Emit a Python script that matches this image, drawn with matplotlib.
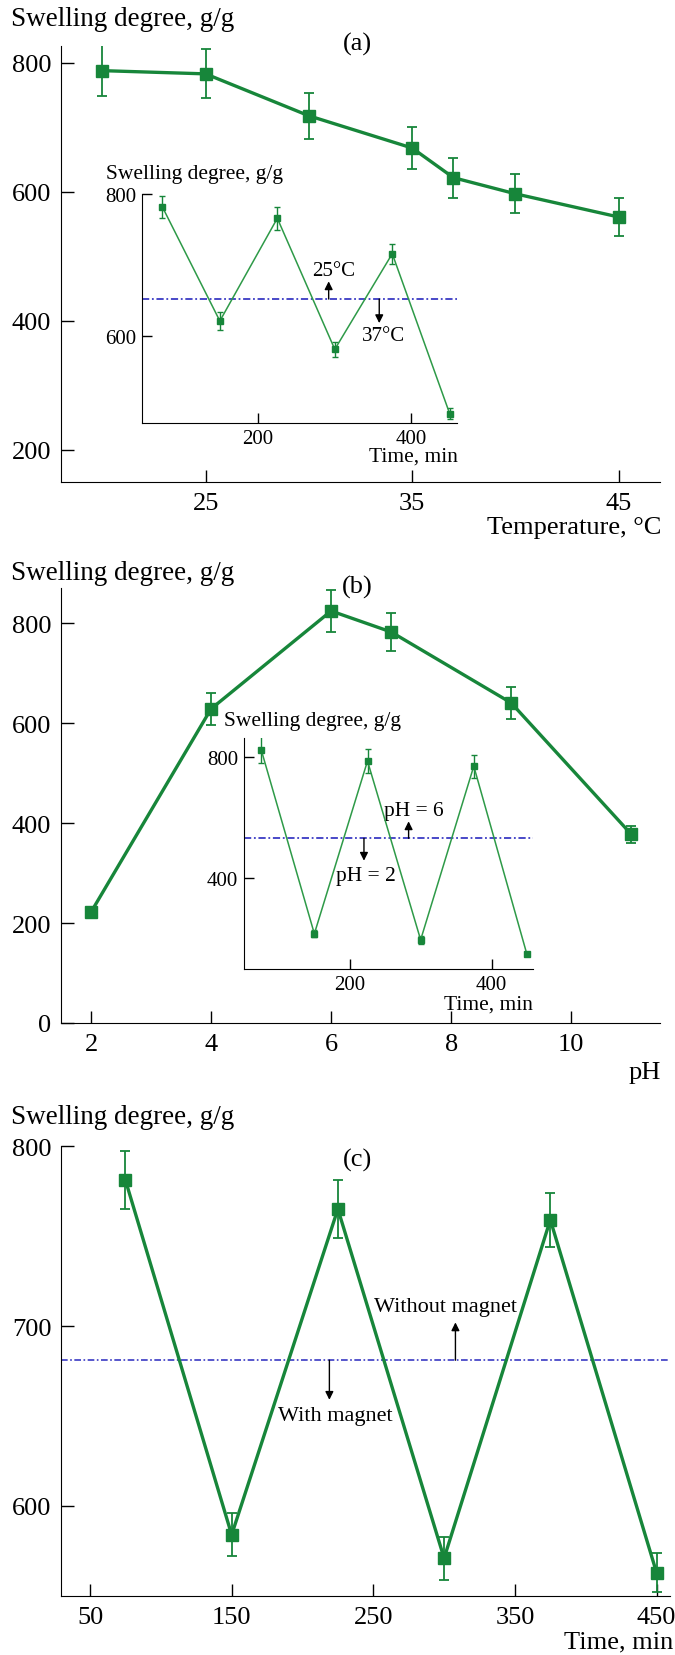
import matplotlib
matplotlib.use('Agg')
import matplotlib.pyplot as plt

plt.rcParams['font.family'] = ['Liberation Serif', 'DejaVu Serif']

# panel (a): temperature
temp = [20, 25, 30, 35, 37, 40, 45]
swell_temp = [788, 783, 718, 668, 622, 597, 561]
err_temp = [40, 38, 36, 33, 31, 30, 29]

# inset (a) and panel (c) time axis
time_min = [75, 150, 225, 300, 375, 450]
swell_tcycle = [782, 621, 766, 581, 716, 490]
err_tcycle = [16, 13, 16, 11, 14, 8]
temp_split = 652

# panel (b): pH
ph = [2, 4, 6, 7, 9, 11]
swell_ph = [222, 629, 825, 783, 641, 378]
err_ph = [8, 32, 42, 38, 32, 17]

swell_phcycle = [824, 217, 787, 197, 770, 149]
err_phcycle = [44, 12, 40, 13, 38, 5]
ph_split = 532

# panel (c): magnet
swell_mag = [781, 584, 765, 571, 759, 563]
err_mag = [16, 12, 16, 12, 15, 11]
mag_split = 681

W, H = 675, 1656
GREEN = '#17863a'
LGREEN = '#2e9a48'
BLUE = '#3a3ac4'
DASH = (0, (4, 1.5, 1, 1.5))

fig = plt.figure(figsize=(W / 100, H / 100), dpi=100)


def box(l, t, r, b):
    return [l / W, 1 - b / H, (r - l) / W, (b - t) / H]


def style(ax, fs, tl, pad):
    for s in ['top', 'right']:
        ax.spines[s].set_visible(False)
    ax.tick_params(direction='in', length=tl, width=1, labelsize=fs, pad=pad)


def ftext(x, y, s, fs, ha='left'):
    fig.text(x / W, 1 - y / H, s, fontsize=fs, ha=ha, va='center')


def main_plot(ax, x, y, e):
    ax.errorbar(x, y, yerr=e, color=GREEN, lw=2.4, marker='s', ms=8,
                ecolor=GREEN, elinewidth=1.3, capsize=3.5, capthick=1.3, zorder=3)


def inset_plot(ax, x, y, e):
    ax.errorbar(x, y, yerr=e, color=LGREEN, lw=1.1, marker='s', ms=4,
                mfc=GREEN, mec=GREEN, ecolor=GREEN, elinewidth=1, capsize=2.5, zorder=3)


def arrow(ax, x, y0, y1):
    ax.annotate('', xy=(x, y1), xytext=(x, y0),
                arrowprops=dict(arrowstyle='-|>', color='black', lw=1, mutation_scale=12,
                                shrinkA=0, shrinkB=0))


# ---- panel (a)
ax = fig.add_axes(box(61, 46.5, 660, 483))
main_plot(ax, temp, swell_temp, err_temp)
ax.set_xlim(18, 47)
ax.set_ylim(150, 827)
ax.set_xticks([25, 35, 45])
ax.set_yticks([200, 400, 600, 800])
style(ax, 19, 9, 7)
ftext(11, 19, 'Swelling degree, g/g', 19.5)
ftext(357, 44, '(a)', 19, ha='center')
ftext(661, 528, 'Temperature, \u00b0C', 19, ha='right')

ins = fig.add_axes(box(141.7, 195.2, 457.4, 424))
ins.patch.set_alpha(0)
inset_plot(ins, time_min, swell_tcycle, err_tcycle)
ins.axhline(temp_split, color=BLUE, lw=1.3, ls=DASH)
ins.set_xlim(48, 460)
ins.set_ylim(477, 800)
ins.set_xticks([200, 400])
ins.set_yticks([600, 800])
style(ins, 15, 7, 4)
arrow(ins, 292, temp_split, 677)
arrow(ins, 358, temp_split, 618)
ins.text(299, 692, '25\u00b0C', fontsize=15, ha='center', va='center')
ins.text(363, 600, '37\u00b0C', fontsize=15, ha='center', va='center')
ftext(106, 175, 'Swelling degree, g/g', 15.5)
ftext(458, 457, 'Time, min', 15.5, ha='right')

# ---- panel (b)
ax = fig.add_axes(box(61, 589, 660, 1024))
main_plot(ax, ph, swell_ph, err_ph)
ax.set_xlim(1.5, 11.48)
ax.set_ylim(0, 871)
ax.set_xticks([2, 4, 6, 8, 10])
ax.set_yticks([0, 200, 400, 600, 800])
style(ax, 19, 9, 7)
ftext(11, 573, 'Swelling degree, g/g', 19.5)
ftext(357, 587, '(b)', 19, ha='center')
ftext(661, 1073, 'pH', 19, ha='right')

ins = fig.add_axes(box(243.5, 739, 532.6, 970.2))
ins.patch.set_alpha(0)
inset_plot(ins, time_min, swell_phcycle, err_phcycle)
ins.axhline(ph_split, color=BLUE, lw=1.3, ls=DASH)
ins.set_xlim(50, 458)
ins.set_ylim(100, 863)
ins.set_xticks([200, 400])
ins.set_yticks([400, 800])
style(ins, 15, 7, 4)
arrow(ins, 283, ph_split, 588)
arrow(ins, 220, ph_split, 458)
ins.text(290, 625, 'pH = 6', fontsize=15.5, ha='center', va='center')
ins.text(223, 409, 'pH = 2', fontsize=15.5, ha='center', va='center')
ftext(224, 722, 'Swelling degree, g/g', 15.5)
ftext(533, 1005, 'Time, min', 15.5, ha='right')

# ---- panel (c)
ax = fig.add_axes(box(61, 1147, 670, 1597))
main_plot(ax, time_min, swell_mag, err_mag)
ax.axhline(mag_split, color=BLUE, lw=1.2, ls=DASH)
ax.set_xlim(29.5, 459.5)
ax.set_ylim(550, 800)
ax.set_xticks([50, 150, 250, 350, 450])
ax.set_yticks([600, 700, 800])
style(ax, 19, 9, 7)
arrow(ax, 308, mag_split, 702)
arrow(ax, 219, mag_split, 659)
ax.text(301, 710.6, 'Without magnet', fontsize=16, ha='center', va='center')
ax.text(223, 650, 'With magnet', fontsize=16, ha='center', va='center')
ftext(11, 1117, 'Swelling degree, g/g', 19.5)
ftext(357, 1160, '(c)', 19, ha='center')
ftext(673, 1642, 'Time, min', 19, ha='right')

fig.savefig('out.png', dpi=100)
